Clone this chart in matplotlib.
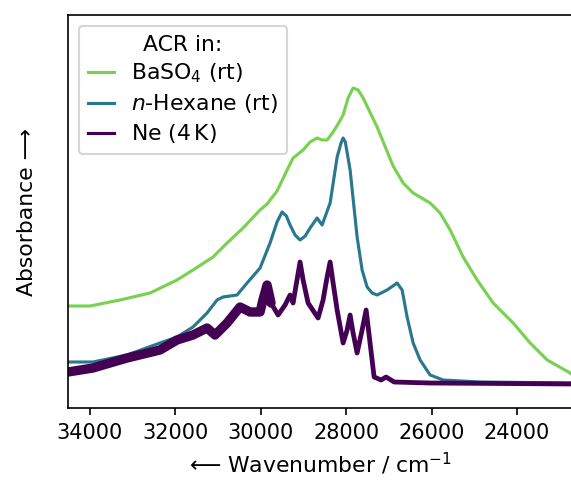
import matplotlib
matplotlib.use("Agg")
import matplotlib.pyplot as plt
import numpy as np

# --- data (wavenumber in cm^-1, absorbance in arbitrary units) ---
wn_baso4 = [34515, 34000, 33297, 32594, 31962, 31587, 31118, 30790, 30415, 30017,
            29853, 29619, 29384, 29244, 29009, 28845, 28681, 28564, 28447, 28306,
            28190, 28072, 27955, 27838, 27720, 27603, 27276, 26901, 26666, 26432,
            26034, 25800, 25565, 25261, 24933, 24558, 24089, 23691, 23293, 22754,
            22650]
abs_baso4 = [1.02, 1.02, 1.08, 1.15, 1.28, 1.38, 1.51, 1.65, 1.80, 1.98,
             2.04, 2.17, 2.38, 2.50, 2.58, 2.66, 2.70, 2.68, 2.68, 2.76,
             2.84, 2.93, 3.10, 3.20, 3.18, 3.10, 2.81, 2.42, 2.25, 2.15,
             2.05, 1.95, 1.78, 1.51, 1.28, 1.05, 0.85, 0.65, 0.48, 0.35,
             0.31]

wn_hexane = [34515, 33930, 33133, 32360, 31962, 31587, 31259, 31024, 30884, 30556,
             30321, 30017, 29783, 29619, 29502, 29400, 29314, 29197, 29080, 28960,
             28845, 28681, 28564, 28376, 28212, 28120, 28072, 28020, 27908, 27744,
             27627, 27510, 27393, 27276, 27042, 26807, 26690, 26573, 26432, 26268,
             26034, 25729, 24862, 22650]
abs_hexane = [0.46, 0.46, 0.53, 0.65, 0.71, 0.81, 0.95, 1.08, 1.11, 1.13,
              1.25, 1.40, 1.65, 1.86, 1.96, 1.92, 1.83, 1.73, 1.68, 1.72,
              1.80, 1.90, 1.83, 2.05, 2.51, 2.65, 2.70, 2.66, 2.38, 1.71,
              1.38, 1.21, 1.15, 1.13, 1.18, 1.25, 1.18, 0.91, 0.65, 0.48,
              0.33, 0.28, 0.26, 0.25]

wn_ne = [34515, 33930, 33133, 32360, 31962, 31587, 31259, 31071, 30790, 30486,
         30251, 30017, 29950, 29853, 29760, 29595, 29431, 29314, 29244, 29080,
         29009, 28892, 28658, 28541, 28447, 28376, 28306, 28212, 28072, 27978,
         27908, 27838, 27744, 27627, 27533, 27463, 27346, 27182, 27065, 26877,
         26034, 22650]
abs_ne = [0.36, 0.40, 0.50, 0.58, 0.68, 0.73, 0.80, 0.73, 0.85, 1.01,
          0.96, 0.96, 1.08, 1.23, 1.05, 0.93, 1.03, 1.13, 1.05, 1.46,
          1.28, 1.05, 0.90, 1.08, 1.31, 1.46, 1.25, 0.98, 0.65, 0.78,
          0.93, 0.75, 0.55, 0.78, 0.98, 0.73, 0.31, 0.28, 0.31, 0.26,
          0.25, 0.24]

labels = ['BaSO$_4$ (rt)', '$n$-Hexane (rt)', 'Ne (4$\\,$K)']
colors = ['#7ad151', '#2a788e', '#440154']
xticks = [34000, 32000, 30000, 28000, 26000, 24000]

fig = plt.figure(figsize=(571/150, 480/150), dpi=150)
ax = fig.add_axes([68/571, 72/480, 505/571, 393/480])

ax.plot(wn_baso4, abs_baso4, color=colors[0], lw=1.5, label=labels[0])
ax.plot(wn_hexane, abs_hexane, color=colors[1], lw=1.5, label=labels[1])
ax.plot(wn_ne, abs_ne, color=colors[2], lw=2.3, label=labels[2])
# noisy high-wavenumber region of the matrix spectrum appears as a thick band
wn_ne_a = np.array(wn_ne)
abs_ne_a = np.array(abs_ne)
m = wn_ne_a >= 29700
ax.plot(wn_ne_a[m], abs_ne_a[m], color=colors[2], lw=4.5, solid_capstyle='round')

ax.set_xlim(34515, 22688)
ax.set_ylim(0, 3.93)
ax.set_xticks(xticks)
ax.set_xticklabels([str(t) for t in xticks], fontsize=10)
ax.set_yticks([])
ax.set_xlabel('⟵ Wavenumber / cm$^{-1}$', fontsize=10.5)
ax.set_ylabel('Absorbance ⟶', fontsize=10.5, labelpad=15)
leg = ax.legend(loc='upper left', title='ACR in:', fontsize=10.5, title_fontsize=10.5,
                handlelength=1.2, labelspacing=0.32)
for h in leg.get_lines():
    h.set_linewidth(1.5)

fig.savefig('out.png', dpi=150)
